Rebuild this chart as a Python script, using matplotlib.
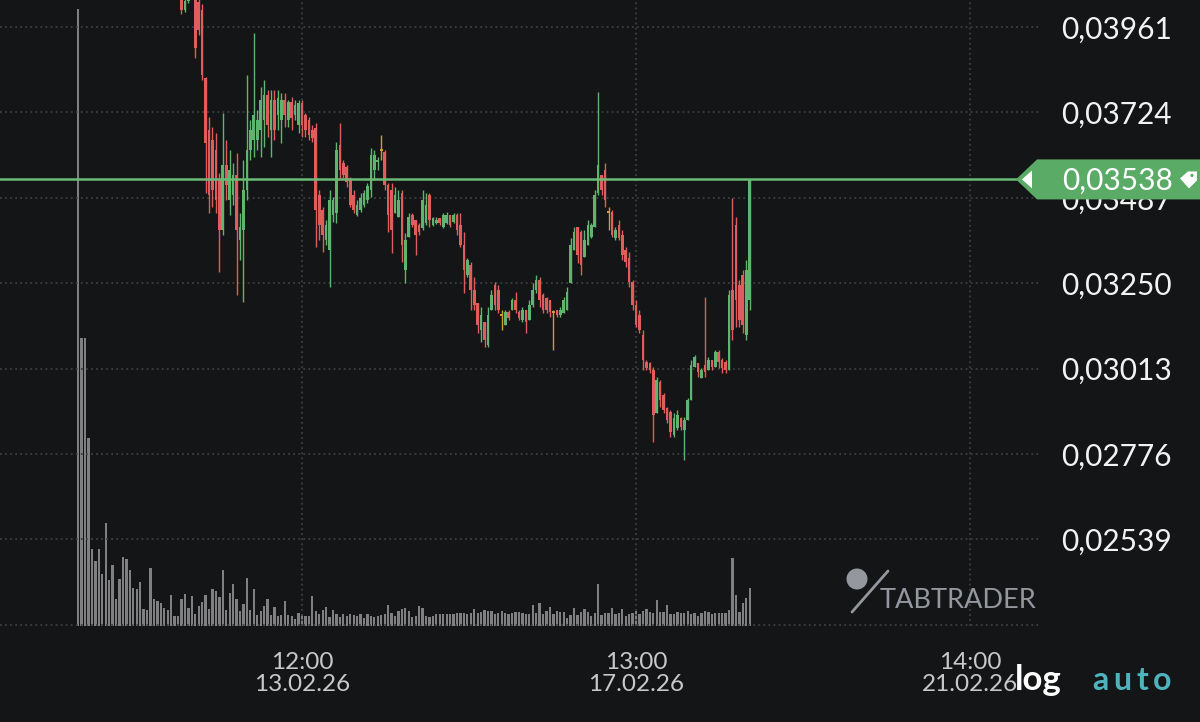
import numpy as np
import matplotlib
matplotlib.use("Agg")
import matplotlib.pyplot as plt
from matplotlib.patches import Polygon, Circle

plt.rcParams["font.family"] = ["Lato", "DejaVu Sans"]

# ---------------------------------------------------------------------------
# Data (hourly candles, x = hours since 13.02.26 12:00, prices in 1e-5 units)
# ---------------------------------------------------------------------------
PRICE_UNIT = 1e-5
candle_start_hour = -35
vol_start_hour = -65

opens = [4053, 4008, 4033, 4069, 4053, 4030, 4008, 3820, 3675, 3647, 3620, 3536, 3398, 3578, 3481, 3495,
         3550, 3370, 3398, 3509, 3620, 3647, 3647, 3675, 3703, 3772, 3675, 3758, 3717, 3703, 3758, 3703,
         3753, 3717, 3689, 3750, 3717, 3703, 3675, 3681, 3495, 3453, 3370, 3342, 3439, 3445, 3634, 3584,
         3573, 3536, 3495, 3439, 3453, 3467, 3481, 3509, 3564, 3586, 3620, 3614, 3523, 3509, 3445, 3434,
         3500, 3287, 3378, 3439, 3426, 3412, 3403, 3417, 3495, 3412, 3417, 3431, 3406, 3417, 3439, 3420,
         3439, 3412, 3356, 3273, 3301, 3231, 3195, 3120, 3142, 3079, 3176, 3245, 3231, 3162, 3134, 3170,
         3176, 3204, 3170, 3148, 3176, 3148, 3190, 3231, 3259, 3217, 3209, 3204, 3170, 3176, 3162, 3167,
         3176, 3251, 3342, 3406, 3392, 3323, 3356, 3378, 3406, 3500, 3550, 3564, 3448, 3448, 3376, 3412,
         3384, 3342, 3320, 3253, 3190, 3162, 3106, 3031, 3029, 3009, 2890, 2976, 2940, 2904, 2893, 2829,
         2848, 2876, 2843, 2871, 2926, 3018, 3029, 2987, 3023, 3009, 3037, 3018, 3059, 3037, 3031, 3009,
         3231, 3412, 3245, 3273, 3106, 3204]
highs = [4064, 4047, 4092, 4086, 4058, 4053, 4025, 3822, 3711, 3684, 3667, 3556, 3722, 3647, 3620, 3584,
         3611, 3445, 3592, 3828, 3703, 3944, 3731, 3795, 3814, 3786, 3786, 3786, 3786, 3778, 3778, 3758,
         3767, 3758, 3758, 3758, 3722, 3711, 3689, 3695, 3509, 3462, 3426, 3509, 3489, 3642, 3695, 3592,
         3578, 3545, 3509, 3481, 3500, 3509, 3528, 3625, 3620, 3600, 3661, 3620, 3528, 3528, 3517, 3509,
         3509, 3389, 3445, 3445, 3426, 3417, 3509, 3500, 3500, 3434, 3434, 3431, 3445, 3448, 3439, 3445,
         3445, 3445, 3392, 3320, 3309, 3267, 3195, 3184, 3142, 3184, 3231, 3253, 3245, 3176, 3176, 3176,
         3209, 3226, 3176, 3184, 3176, 3204, 3251, 3273, 3267, 3223, 3212, 3204, 3176, 3176, 3184, 3212,
         3240, 3376, 3406, 3406, 3398, 3398, 3426, 3417, 3509, 3781, 3550, 3584, 3462, 3453, 3406, 3426,
         3398, 3351, 3337, 3259, 3204, 3176, 3120, 3037, 3031, 3018, 2990, 2982, 2945, 2907, 2898, 2890,
         2898, 2879, 2879, 2932, 3037, 3051, 3029, 3015, 3212, 3045, 3037, 3065, 3065, 3043, 3037, 3231,
         3487, 3434, 3259, 3287, 3315, 3538]
lows = [3997, 4003, 4028, 4042, 3875, 3939, 3814, 3500, 3445, 3462, 3445, 3281, 3384, 3481, 3439, 3467,
        3217, 3315, 3198, 3481, 3592, 3600, 3620, 3600, 3628, 3656, 3600, 3647, 3675, 3639, 3684, 3684,
        3675, 3703, 3667, 3656, 3656, 3647, 3642, 3351, 3370, 3337, 3356, 3240, 3420, 3417, 3536, 3542,
        3517, 3462, 3445, 3437, 3448, 3462, 3473, 3489, 3536, 3564, 3592, 3509, 3392, 3334, 3445, 3434,
        3309, 3251, 3378, 3406, 3328, 3384, 3398, 3412, 3406, 3409, 3414, 3412, 3403, 3414, 3406, 3417,
        3384, 3351, 3223, 3267, 3176, 3176, 3112, 3087, 3073, 3073, 3176, 3176, 3167, 3120, 3134, 3148,
        3176, 3167, 3148, 3142, 3112, 3148, 3184, 3223, 3184, 3167, 3167, 3156, 3065, 3156, 3156, 3167,
        3176, 3251, 3342, 3306, 3273, 3323, 3356, 3376, 3406, 3495, 3495, 3462, 3398, 3378, 3370, 3370,
        3315, 3295, 3240, 3176, 3129, 3112, 3009, 3009, 3001, 2809, 2890, 2907, 2890, 2862, 2823, 2823,
        2843, 2843, 2760, 2871, 2926, 3018, 2990, 2987, 2990, 3009, 3009, 3018, 3015, 3001, 3001, 3009,
        3093, 3129, 3129, 3112, 3093, 3176]
closes = [4008, 4033, 4069, 4053, 3903, 3953, 3828, 3639, 3495, 3509, 3481, 3398, 3578, 3523, 3564, 3550,
          3398, 3406, 3509, 3620, 3675, 3717, 3703, 3758, 3772, 3689, 3758, 3675, 3764, 3758, 3717, 3753,
          3709, 3745, 3750, 3689, 3675, 3661, 3653, 3453, 3412, 3384, 3412, 3481, 3481, 3620, 3564, 3550,
          3531, 3467, 3453, 3467, 3487, 3500, 3520, 3606, 3606, 3592, 3620, 3523, 3439, 3398, 3495, 3481,
          3356, 3370, 3434, 3412, 3384, 3392, 3481, 3467, 3426, 3431, 3426, 3417, 3439, 3439, 3412, 3439,
          3398, 3356, 3287, 3315, 3231, 3190, 3134, 3162, 3093, 3162, 3217, 3190, 3176, 3162, 3170, 3154,
          3204, 3176, 3154, 3176, 3142, 3190, 3231, 3259, 3204, 3176, 3176, 3170, 3170, 3162, 3176, 3204,
          3226, 3356, 3392, 3328, 3301, 3370, 3412, 3412, 3495, 3578, 3509, 3481, 3448, 3384, 3398, 3376,
          3328, 3309, 3253, 3190, 3134, 3120, 3037, 3015, 3009, 2884, 2982, 2926, 2898, 2871, 2837, 2876,
          2884, 2851, 2871, 2926, 3023, 3045, 3004, 3009, 3004, 3037, 3018, 3059, 3031, 3015, 3009, 3217,
          3120, 3204, 3148, 3134, 3287, 3538]

volumes = [617, 288, 288, 188, 77, 65, 77, 52, 103, 46, 61, 27, 47, 69, 67, 56, 38, 37, 44, 17,
           16, 58, 27, 25, 23, 18, 16, 31, 10, 10, 27, 32, 18, 30, 12, 20, 24, 31, 17, 37,
           35, 29, 56, 16, 33, 42, 27, 15, 22, 48, 16, 37, 11, 15, 20, 27, 11, 19, 10, 11,
           25, 11, 10, 7, 13, 12, 10, 10, 30, 15, 12, 16, 19, 9, 16, 12, 9, 12,
           10, 12, 11, 10, 12, 8, 12, 10, 9, 10, 11, 12, 21, 13, 10, 15, 17, 18, 15, 9,
           10, 20, 18, 10, 9, 10, 12, 12, 12, 12, 12, 12, 13,
           13, 13, 12, 13, 17, 13, 14, 16, 15, 15, 12, 13, 15, 13, 12, 13, 14, 14, 13, 12,
           12, 21, 13, 23, 12, 15, 19, 12, 15, 14, 14, 8, 11, 18, 11, 14, 17, 14, 10, 13,
           42, 11, 13, 13, 18, 12, 13, 17, 10, 12, 13, 15, 12, 15, 17, 14, 13, 26, 14, 14,
           21, 12, 12, 14, 13, 13, 15, 12, 13, 10, 13, 15, 14, 12, 13, 13, 13, 13, 16, 68,
           31, 14, 23, 28, 38]

price_ticks = [0.02302, 0.02539, 0.02776, 0.03013, 0.03250, 0.03487, 0.03724, 0.03961]
time_ticks = [0, 97, 194]
time_labels = ["12:00\n13.02.26", "13:00\n17.02.26", "14:00\n21.02.26"]
last_price = 0.03538

# ---------------------------------------------------------------------------
# Style
# ---------------------------------------------------------------------------
BG = "#141516"
GRID = "#3c3e41"
UP = "#5fb56f"
DOWN = "#e05d5d"
DOJI = "#d49a2c"
VOL = "#808082"
LINE = "#6abb76"
BOX = "#5aab66"

W, H, DPI = 1200, 722, 100
fig = plt.figure(figsize=(W / DPI, H / DPI), dpi=DPI, facecolor=BG)
rect = [0.0, 96 / H, 1040 / W, 626 / H]

xlim = (-87.7, 214.3)
ylim = (0.022988, 0.040359)

# volume panel behind the price axes
axv = fig.add_axes(rect, facecolor=BG)
vol_hours = np.arange(vol_start_hour, vol_start_hour + len(volumes))
axv.bar(vol_hours, volumes, width=0.66, color=VOL, linewidth=0)
axv.set_xlim(*xlim)
axv.set_ylim(0, 626)
axv.axis("off")

ax = fig.add_axes(rect, facecolor="none")
ax.set_xlim(*xlim)
ax.set_ylim(*ylim)

o = np.array(opens) * PRICE_UNIT
h = np.array(highs) * PRICE_UNIT
l = np.array(lows) * PRICE_UNIT
c = np.array(closes) * PRICE_UNIT
hours = np.arange(candle_start_hour, candle_start_hour + len(opens))

colors = np.where(c > o, UP, np.where(c < o, DOWN, DOJI))
ax.vlines(hours, l, h, colors=colors, linewidth=1.0, zorder=3)
flat = np.abs(c - o) < 0.00004
body = np.where(flat, 0.00004, np.abs(c - o))
bottom = np.minimum(o, c) - np.where(flat, 0.00002, 0)
ax.bar(hours, body, bottom=bottom, width=0.76, color=colors, linewidth=0, zorder=3)

ax.axhline(last_price, color=LINE, linewidth=1.8, zorder=4)

# grid + ticks
ax.set_yticks(price_ticks)
ax.set_yticklabels([""] + [f"{v:.5f}".replace(".", ",") for v in price_ticks[1:]])
ax.set_xticks(time_ticks)
ax.set_xticklabels(time_labels, linespacing=1.08)
ax.grid(True, color=GRID, linestyle=(0, (1, 1.8)), linewidth=1.3, zorder=0)
ax.yaxis.tick_right()
ax.tick_params(axis="y", length=0, pad=95, labelsize=21.5, labelcolor="#f2f2f2")
ax.tick_params(axis="x", length=0, pad=18.5, labelsize=17.5, labelcolor="#c8c8c8")
for lab in ax.get_yticklabels():
    lab.set_horizontalalignment("right")
for s in ax.spines.values():
    s.set_visible(False)

# ---------------------------------------------------------------------------
# Overlay in pixel coordinates: price tag, watermark, scale switches
# ---------------------------------------------------------------------------
ov = fig.add_axes([0, 0, 1, 1], facecolor="none")
ov.set_xlim(0, W)
ov.set_ylim(H, 0)
ov.axis("off")

yp = H - ax.transData.transform((0, last_price))[1]
ov.add_patch(Polygon([(1016, yp), (1037, yp - 20), (1200, yp - 20), (1200, yp + 20), (1037, yp + 20)],
                     closed=True, facecolor=BOX, edgecolor="none", zorder=5))
ov.add_patch(Polygon([(1022, yp), (1032, yp - 9), (1032, yp + 9)], closed=True,
                     facecolor="white", edgecolor="none", zorder=6))
ov.text(1173, yp + 1, f"{last_price:.5f}".replace(".", ","), ha="right", va="center",
        fontsize=21.5, color="white", zorder=6)
ov.add_patch(Polygon([(1180, yp - 1), (1188, yp - 8), (1197, yp - 8), (1197, yp + 1), (1189, yp + 9)],
                     closed=True, facecolor="white", edgecolor="none", zorder=6))
ov.add_patch(Circle((1192, yp - 4), 1.6, facecolor=BOX, edgecolor="none", zorder=7))

# watermark
WM = "#95979e"
ov.add_patch(Circle((857, 579), 10.5, facecolor=WM, edgecolor="none"))
ov.plot([852, 888], [612, 571], color=WM, linewidth=2.0, solid_capstyle="round")
ov.text(880, 601, "TABTRADER", ha="left", va="center", fontsize=19.5, color=WM)

# log / auto switches
ov.text(1038, 680, "log", ha="center", va="center", fontsize=25, fontweight="bold", color="white")
for ch, xc in zip("auto", [1100, 1122, 1142, 1162]):
    ov.text(xc, 680, ch, ha="center", va="center", fontsize=23, fontweight="bold", color="#4fb3bd")

fig.savefig("out.png", dpi=DPI, facecolor=BG)
